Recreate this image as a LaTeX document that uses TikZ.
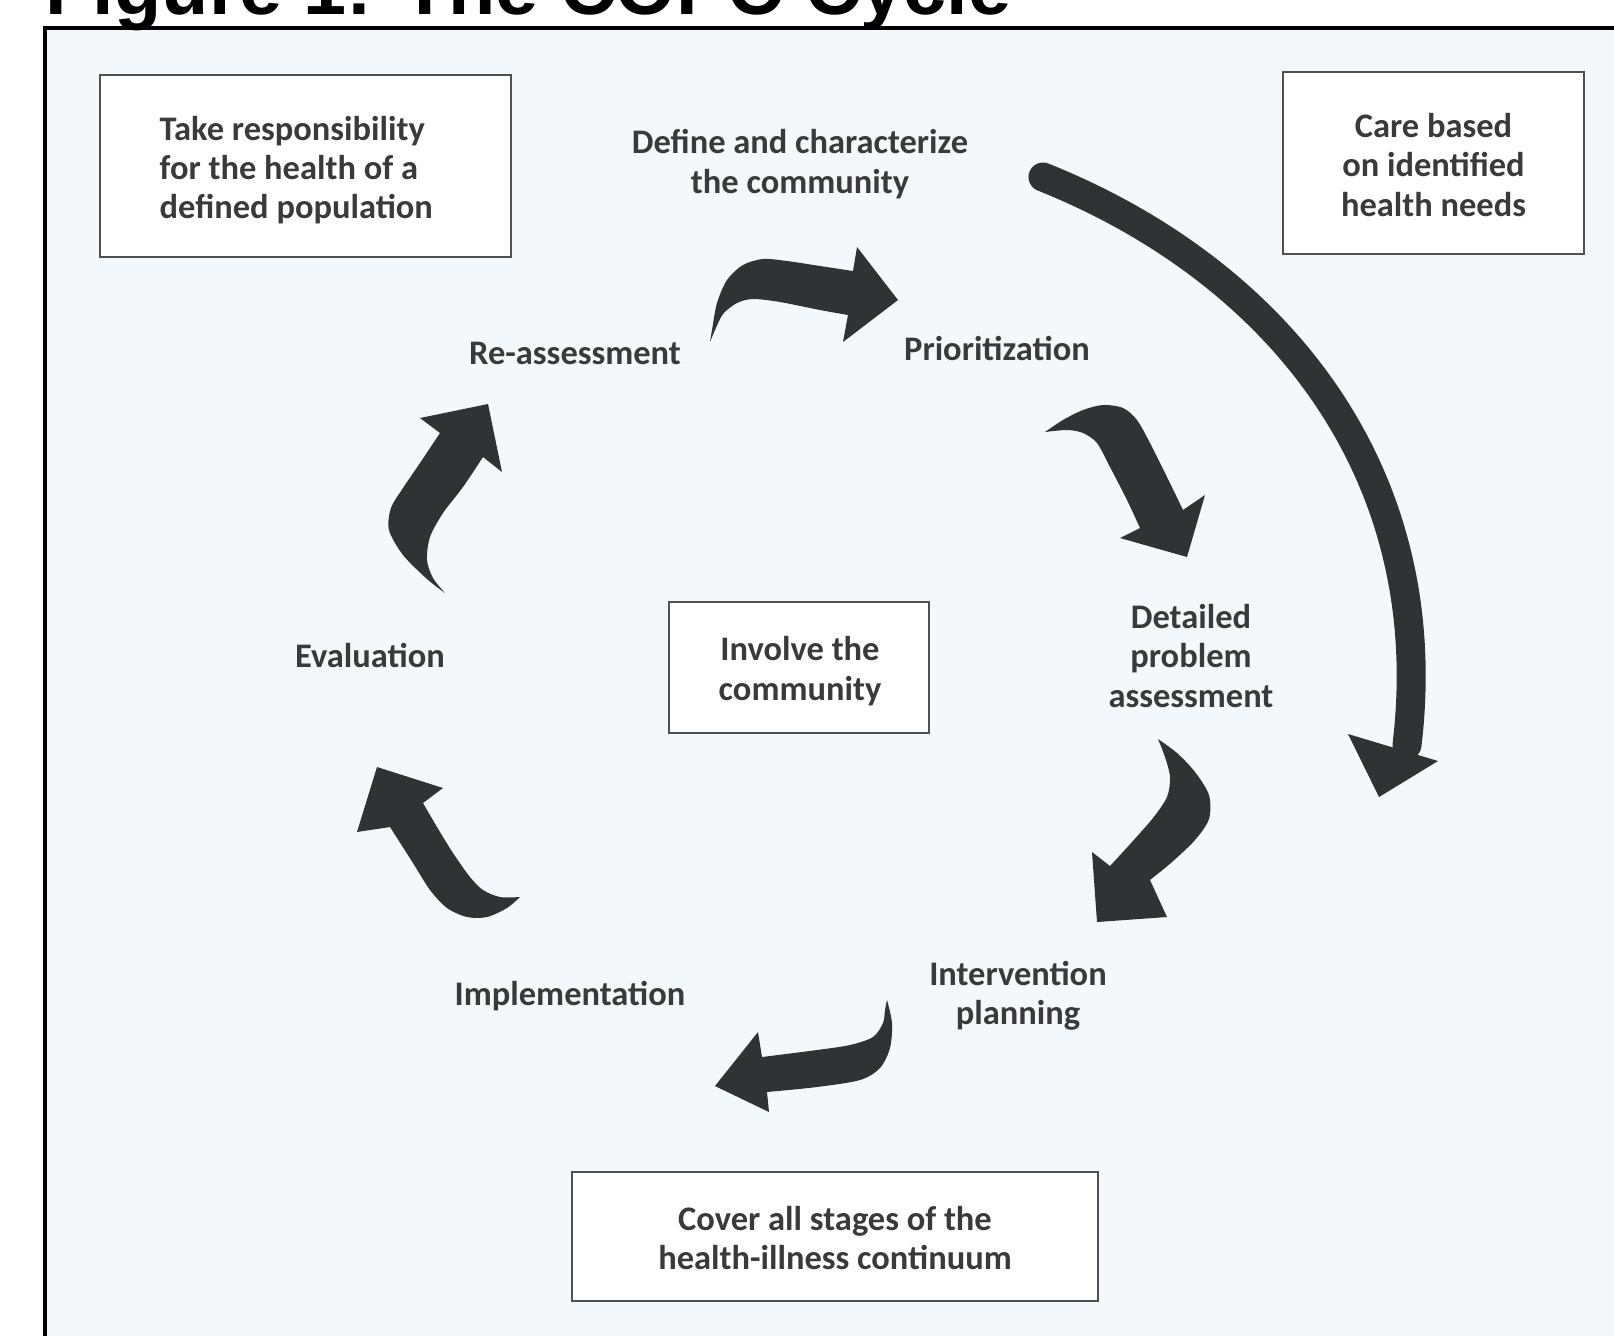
\documentclass[tikz,border=0pt]{standalone}
\usepackage{fontspec}
\setmainfont{Carlito}
\newfontfamily\titlefont{Liberation Sans}
\definecolor{bgcol}{RGB}{245,248,251}
\definecolor{arrowc}{RGB}{48,50,52}
\definecolor{textc}{RGB}{58,58,58}
\definecolor{boxline}{RGB}{80,80,80}
\tikzset{
  lbl/.style={font=\bfseries\fontsize{9.8}{11.2}\selectfont, text=textc, align=center, inner sep=0pt},
  infobox/.style={draw=boxline, line width=0.6pt, fill=white, inner sep=0pt},
}
\begin{document}
\begin{tikzpicture}[x=0.01cm,y=-0.01cm]
\useasboundingbox (0,0) rectangle (1614,1335);
\clip (0,0) rectangle (1614,1335);
\fill[white] (0,0) rectangle (1614,1335);
% frame
\fill[bgcol] (45,28) rectangle (1700,1400);
\draw[black, line width=0.9pt] (45,1400) -- (45,28) -- (1700,28);
% title
\node[anchor=base west, inner sep=0pt, font=\titlefont\bfseries\fontsize{22}{26}\selectfont] (title) at (45,14) {Figure 1: The COPC Cycle};

% boxes
\node[infobox, minimum width=4.11cm, minimum height=1.82cm] (resp) at (305.5,166) {};
\node[lbl, align=left, anchor=west] (resptxt) at (159,170) {Take responsibility\\for the health of a\\defined population};
\node[infobox, minimum width=3.01cm, minimum height=1.82cm] (care) at (1433.5,163) {};
\node[lbl] (caretxt) at (1433.5,165) {Care based\\on identified\\health needs};
\node[infobox, minimum width=2.60cm, minimum height=1.31cm] (involve) at (799,667.5) {};
\node[lbl] (involvetxt) at (800,671) {Involve the\\community};
\node[infobox, minimum width=5.26cm, minimum height=1.29cm] (cover) at (835,1236.5) {};
\node[lbl] (covertxt) at (835,1238) {Cover all stages of the\\health-illness continuum};

% stage labels
\node[lbl] (define) at (800,164) {Define and characterize\\the community};
\node[lbl] (prior) at (997,348) {Prioritization};
\node[lbl] (detail) at (1191,656) {Detailed\\problem\\assessment};
\node[lbl] (interv) at (1018,996) {Intervention\\planning};
\node[lbl] (implem) at (570,996) {Implementation};
\node[lbl] (evalu) at (370,655) {Evaluation};
\node[lbl] (reass) at (575,353) {Re-assessment};

% A: re-assessment -> prioritization
\fill[arrowc] plot[smooth] coordinates {(710,342) (712,330) (717,303) (727,280) (743,265) (763,259) (787,261) (820,266) (853,271)}
  -- (857,247) -- (898,300) -- (843,342) -- (848,315)
  -- plot[smooth] coordinates {(848,315) (820,310) (780,302) (753,299) (737,303) (723,314) (715,330) (710,342)} -- cycle;

% B: prioritization -> detailed
\fill[arrowc] plot[smooth] coordinates {(1045,432) (1063,420) (1083,410) (1103,405) (1123,408) (1137,420) (1150,443) (1167,477) (1183,510)}
  -- (1205,495) -- (1187,557) -- (1120,538) -- (1140,528)
  -- plot[smooth] coordinates {(1140,528) (1127,500) (1110,467) (1097,443) (1083,433) (1067,430) (1045,432)} -- cycle;

% C: detailed -> intervention
\fill[arrowc] plot[smooth] coordinates {(1158,739) (1177,753) (1195,772) (1209,795) (1209,819) (1195,840) (1172,862) (1150,880)}
  -- (1167,917) -- (1097,922) -- (1092,852) -- (1110,866)
  -- plot[smooth] coordinates {(1110,866) (1132,842) (1153,818) (1167,797) (1170,777) (1165,757) (1158,739)} -- cycle;

% D: intervention -> implementation
\fill[arrowc] plot[smooth] coordinates {(887,1000) (892,1023) (890,1048) (880,1068) (860,1080) (817,1087) (767,1092)}
  -- (769,1112) -- (715,1086) -- (758,1032) -- (762,1057)
  -- plot[smooth] coordinates {(762,1057) (817,1050) (850,1045) (873,1037) (883,1023) (885,1010) (887,1000)} -- cycle;

% E: implementation -> evaluation
\fill[arrowc] plot[smooth] coordinates {(520,897) (507,908) (487,917) (467,917) (447,908) (430,890) (413,863) (390,827)}
  -- (357,832) -- (377,767) -- (443,788) -- (423,803)
  -- plot[smooth] coordinates {(423,803) (437,827) (453,853) (470,877) (483,890) (500,897) (520,897)} -- cycle;

% F: evaluation -> re-assessment
\fill[arrowc] plot[smooth] coordinates {(445,593) (427,579) (403,555) (389,530) (391,508) (403,488) (420,463) (440,433)}
  -- (420,418) -- (488,404) -- (502,472) -- (483,457)
  -- plot[smooth] coordinates {(483,457) (463,487) (443,513) (430,537) (427,560) (433,578) (445,593)} -- cycle;

% G: big arc
\coordinate (gstart) at (1043,177);
\coordinate (gend) at (1407,745);
\draw[arrowc, line width=0.29cm, line cap=round] (gstart) .. controls (1275,270) and (1440,470) .. (gend);
\fill[arrowc] (1348,734) -- (1438,761) -- (1379,797) -- cycle;
\end{tikzpicture}
\end{document}
